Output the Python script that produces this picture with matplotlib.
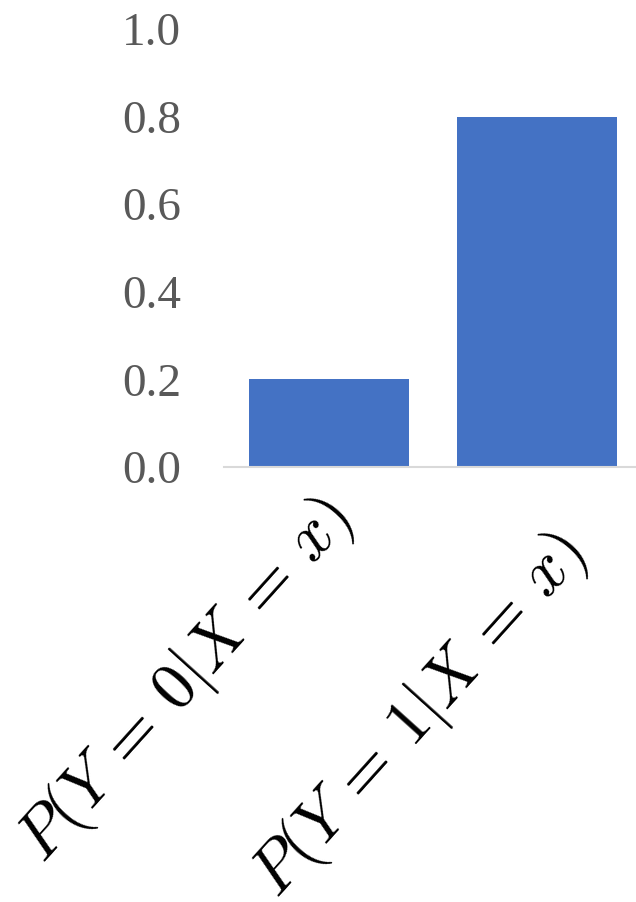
import numpy as np
import matplotlib
matplotlib.use("Agg")
import matplotlib.pyplot as plt
from matplotlib.transforms import ScaledTranslation

# data
categories = [r"$P(Y\,=\,0|X\,=\,x)$", r"$P(Y\,=\,1|X\,=\,x)$"]
probs = [0.2, 0.8]
yticks = [0.0, 0.2, 0.4, 0.6, 0.8, 1.0]

plt.rcParams['mathtext.fontset'] = 'cm'

fig = plt.figure(figsize=(6.36, 9.02), dpi=100)
ax = fig.add_axes([224/636, 1 - 467/902, (636-224)/636, (467-29)/902])

x = np.arange(len(categories))
ax.bar(x, probs, width=0.77, color='#4472C4', zorder=2)
ax.set_xlim(-0.505, 1.476)
ax.set_ylim(0, 1.0)

ax.set_yticks(yticks, [f"{v:.1f}" for v in yticks])
for lab in ax.get_yticklabels():
    lab.set_fontfamily('Liberation Serif')
    lab.set_fontsize(34)
    lab.set_color('#595959')
ax.tick_params(axis='y', length=0, pad=31)

ax.set_xticks(x, categories, rotation=48, ha='right', rotation_mode='anchor',
              fontsize=48)
ax.tick_params(axis='x', length=0, pad=0)
# Excel-ish placement: each label sits a bit differently under its bar
offsets = [(-16, -18), (10, -53)]
for lab, (dx, dy) in zip(ax.get_xticklabels(), offsets):
    lab.set_transform(lab.get_transform() + ScaledTranslation(dx/100, dy/100, fig.dpi_scale_trans))

for s in ['top', 'right', 'left']:
    ax.spines[s].set_visible(False)
ax.spines['bottom'].set_color('#d9d9d9')
ax.spines['bottom'].set_linewidth(1.5)

fig.savefig('out.png', dpi=100)
